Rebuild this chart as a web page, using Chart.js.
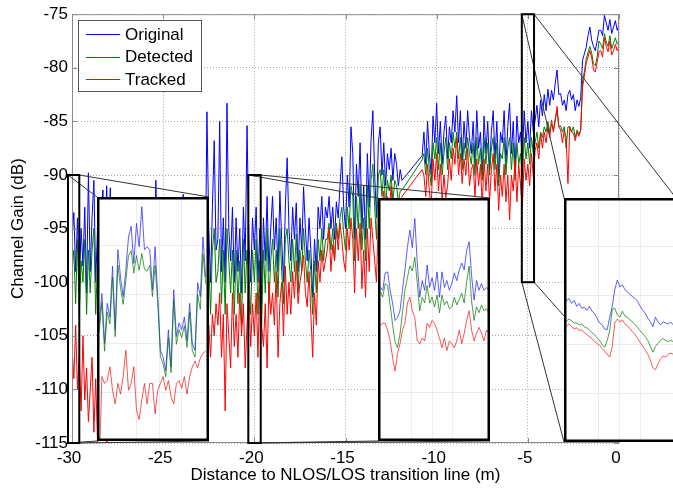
<!DOCTYPE html>
<html>
<head>
<meta charset="utf-8">
<script src="https://cdn.jsdelivr.net/npm/chart.js@4.4.0/dist/chart.umd.min.js"></script>
<style>
  body { margin: 0; background: #fff; overflow: hidden; width: 673px; height: 490px; position: relative; }
  canvas { position: absolute; }
</style>
</head>
<body>
<canvas id="main" width="673" height="490" style="left:0;top:0"></canvas>
<canvas id="inset1" width="112" height="244" style="left:97px;top:197px"></canvas>
<canvas id="inset2" width="112" height="243" style="left:378px;top:198px"></canvas>
<canvas id="inset3" width="112" height="244" style="left:564px;top:198px"></canvas>
<script>
// samples every 0.1 m from -30 to 0 (dB)
const xStart = -30, xStep = 0.1;

const original = [
  -96,-93.5,-99,-94,-100,-95,-98.5,-93,-101,-89.8,
  -99,-94,-90.5,-100,-95,-102,-93,-91.4,-98,-91,
  -97,-91.2,-99,-96,-101,-95,-98,-100,-94,-99,
  -96,-100,-94,-98,-102,-95,-97,-93,-99,-96,
  -100,-95,-98,-93,-97,-101,-90.5,-99,-96,-94,
  -98,-95,-101,-93,-99,-96,-100,-94,-97,-99,
  -95,-91.8,-98,-100,-96,-94,-99,-97,-102,-95,
  -99,-96,-94,-101,-84.1,-95,-100,-93,-86.8,-97,
  -96,-85,-99,-94,-100,-83.3,-95,-98,-93,-100,
  -94,-99,-95,-101,-93,-98,-85.4,-96,-100,-94,
  -97,-93,-100,-95,-102,-94,-98,-92,-99,-95,
  -92,-97,-94,-99,-91.5,-96,-100,-93,-88.4,-95,
  -98,-93,-96,-92.6,-99,-94,-97,-91.1,-95,-98,
  -94,-97,-101.4,-96,-99,-93,-95,-92,-96,-93,
  -94,-92,-95,-93,-96,-92.5,-94,-91,-88.3,-93,
  -95,-90,-93,-85.5,-88,-96,-89,-92,-87,-95,
  -91,-96,-88,-93,-86.8,-84,-90,-94,-87,-85.5,
  -90,-87,-91,-88,-89.5,-87.5,-90.5,-88,-89,-91,
  -89.5,-90.5,null,null,null,null,null,null,null,null,
  null,null,-88.2,-86,-89,-85,-88,-90,-84.5,-87,
  -83.3,-88,-85,-89,-86,-84.5,-88.5,-85.5,-87,-84,
  -86,-82.6,-87,-84,-88.6,-85,-87.5,-84,-86.5,-88,
  -85,-89,-84,-87.5,-86,-90,-84.5,-88,-85,-89.5,
  -86,-84,-88.5,-85,-90.2,-86,-87,-84,-89,-85.5,
  -83.3,-88,-85,-89.5,-84.5,-87,-86,-88.5,-84,-87,
  -85,-87.5,-84,-86,-84.9,-83.5,-85.5,-83,-84.5,-82.5,
  -84,-82,-83.5,-82.1,-83,-81.5,-80.2,-82.5,-82.4,-83.5,
  -83,-84,-82.5,-82.1,-83,-82.5,-84,-83,-83.6,-82.8,
  -79.3,-78.7,-78.1,-77,-76.2,-77.4,-78,-78.4,-77.5,-76.5,
  -76.5,-77,-75.1,-75.8,-76.5,-75.5,-76.8,-76.2,-75.6,-76.5,
  -76
];

const detected = [
  -99,-97,-102,-96,-103,-98,-100,-96,-103,-97,
  -101,-97,-95,-103,-98,-104,-96,-97,-101,-96,
  -100,-97,-102,-99,-104,-98,-101,-103,-97,-102,
  -99,-103,-97,-101,-105,-98,-100,-96,-102,-99,
  -103,-98,-101,-96,-100,-104,-97,-102,-99,-97,
  -101,-98,-104,-96,-102,-99,-103,-97,-100,-102,
  -98,-96,-101,-103,-99,-97,-102,-100,-105,-98,
  -102,-99,-97,-104,-96,-98,-103,-97,-95,-100,
  -99,-96,-102,-97,-103,-95,-98,-101,-97,-103,
  -97,-102,-98,-104,-96,-101,-97,-99,-103,-97,
  -100,-96,-103,-98,-104,-97,-101,-95,-102,-98,
  -96,-100,-97,-101.4,-95,-99,-102,-96,-95,-98,
  -100,-96,-99,-95.5,-101,-97,-99,-95,-98,-100,
  -97,-99,-103,-98,-101,-96,-98,-95,-98,-96,
  -96,-94.5,-97,-95,-98,-94.5,-96,-94,-93,-95.5,
  -97,-93,-95,-91,-92,-98,-92,-95,-91,-97,
  -94,-98,-91,-95,-90.5,-89,-93,-96,-90,-89.5,
  -92,-89.5,-93,-90.5,-91.5,-90,-92.5,-90.5,-91,-92.5,
  -91.5,-91.4,null,null,null,null,null,null,null,null,
  null,null,-88.6,-88,-90,-87.5,-89.5,-91,-87,-88.5,
  -86.5,-89.5,-87,-90,-88,-86.5,-89.5,-87,-88.5,-86,
  -87.5,-86,-88.5,-86.5,-89.5,-87,-88.6,-86.5,-88,-89,
  -87,-90,-86.5,-89,-87.5,-90.5,-86.5,-89,-87,-90,
  -87.5,-86.5,-89.5,-87,-91,-88,-88.5,-86.5,-90,-87.5,
  -86.5,-89.5,-87,-90.5,-87,-89,-88,-90,-86.5,-88.5,
  -87,-89,-86.5,-88,-87,-86,-87.5,-86,-86.5,-85.5,
  -86,-85,-86,-85.2,-85.8,-84.8,-84,-85.5,-85.4,-86,
  -85.5,-87.5,-85.5,-85.5,-86,-85.5,-86.5,-85.8,-86.2,-85.8,
  -81.2,-80.4,-79.2,-78.6,-78,-78.6,-79.6,-79.8,-79,-77.5,
  -77.8,-78.2,-76.8,-77.6,-78,-77,-78.2,-77.7,-77.2,-77.8,
  -77.5
];

const tracked = [
  -106,-109,-104,-110,-107,-112,-105,-111,-108,-113,
  -110,-107,-114,-109,-115,-111,-108,-113,-110,-116,
  -111,-108,-113,-110,-109,-112,-108,-111,-113,-109,
  -110,-112,-108,-111,-109,-113,-110,-108,-112,-110,
  -109,-111,-108,-112,-110,-109,-113,-110,-108,-111,
  -112,-109,-111,-108,-110,-112,-109,-111,-110,-108,
  -110,-108,-111,-109,-112,-110,-108,-111,-109,-107,
  -109,-107,-110,-106,-108,-104,-107,-103,-105,-102,
  -104,-101,-107,-103,-112,-102,-105,-108,-101,-106,
  -103,-107,-101,-105,-102,-108,-104,-100.5,-106,-102,
  -105,-101,-107,-99.5,-104,-106,-102,-108,-100,-103,
  -101,-104,-99,-107,-102,-100,-105,-98.5,-103,-100,
  -103,-99,-101.5,-98,-102,-100,-99,-97.5,-101,-102.3,
  -99,-103,-107,-101,-104,-98,-100,-97,-99,-98,
  -97,-95,-99,-96.5,-98,-95,-97,-94.5,-96,-98,
  -99,-95,-97,-94,-96,-101,-95,-98,-94.5,-100.6,
  -97,-101.4,-95,-99,-94,-96,-98,-100,-94,-95,
  -93,-91.5,-94.5,-92,-93.5,-91,-94,-92.5,-93,-94.5,
  -93,-92,null,null,null,null,null,null,null,null,
  null,null,-89.5,-90,-92,-89,-91.5,-93,-88.5,-90.5,
  -88,-91.5,-89,-92.5,-90,-92.1,-91,-88.5,-90.5,-87.5,
  -89,-86.5,-90,-88,-90.8,-88.5,-90,-87.5,-91,-89.5,
  -89,-92,-88.5,-91,-89,-93,-88.5,-91.5,-89,-92.5,
  -89.5,-88,-91.5,-89,-93.3,-90,-92,-89,-92.5,-90,
  -94.2,-90,-91.5,-88.5,-92.5,-89,-91,-93,-88.5,-90.5,
  -89,-91,-88,-90.2,-87.7,-87,-88.5,-86.1,-87.5,-86,
  -87,-85.5,-86.5,-84.9,-86,-85,-83.6,-85.5,-85.8,-87,
  -85.8,-86.5,-90.8,-85.5,-86,-86.1,-86.8,-86,-86.4,-85.8,
  -81.8,-80.8,-79.6,-79,-78.4,-79,-80.2,-80.4,-79.5,-78.5,
  -78.4,-79,-77.2,-78,-78.5,-77.5,-78.8,-78.4,-77.8,-78.4,
  -78
];

const xTicks = [-30, -25, -20, -15, -10, -5, 0];
const yTicks = [-75, -80, -85, -90, -95, -100, -105, -110, -115];
const seriesNames = ['Original', 'Detected', 'Tracked'];
const seriesColors = ['#0000ff', '#008000', '#ff0000'];
const insetColors = ['rgba(40,40,255,0.75)', 'rgba(0,120,0,0.7)', 'rgba(240,0,0,0.65)'];

// zoom windows: [x from, x to, y low, y high]
const zoomWindows = [
  [-30.22, -29.6, -115, -90],
  [-20.33, -19.65, -115, -90],
  [-5.33, -4.66, -100, -75]
];
// part of each zoom window covered by the readings
const insetSpan = [[0.02, 0.97], [0.02, 0.99], [0.0, 0.975]];

const inset1Original = [-102.9,-99.9,-105.0,-100.9,-102.3,-97.1,-103.6,-95.4,-98.2,-100.2,-97.5,-94.1,-93.0,-96.8,-92.7,-95.1,-91.0,-95.4,-95.1,-95.4,-99.5,-95.1,-100.2,-105.7,-106.4,-107.8,-103.6,-107.4,-99.5,-104.3,-102.9,-103.6,-102.3,-104.7,-100.9,-105.0,-105.7,-98.8,-100.2,-94.1,-98.2];
const inset1Detected = [-103.8,-100.8,-105.8,-101.8,-103.0,-98.2,-104.3,-97.0,-99.3,-101.0,-98.6,-96.0,-95.5,-97.8,-96.0,-97.5,-95.8,-97.4,-97.6,-97.0,-100.2,-97.0,-100.8,-106.3,-107.1,-108.4,-104.4,-108.0,-100.6,-105.1,-103.6,-104.4,-103.2,-105.4,-101.8,-105.8,-106.4,-100.0,-101.5,-95.8,-98.9];
const inset1Tracked = [-118,-108.4,-109.1,-108.8,-107.4,-109.8,-111.2,-109.1,-110.2,-108.4,-105.7,-109.8,-109.1,-107.4,-111.8,-112.8,-110.8,-109.1,-111.2,-109.1,-109.1,-112.2,-109.8,-109.1,-108.4,-109.8,-108.8,-110.5,-111.2,-109.1,-108.8,-109.6,-108.4,-110.2,-108.4,-107.4,-106.8,-107.5,-106.5,-106.0,-105.8];

const inset2Original = [-99.2,-99.5,-97.7,-97.6,-99.5,-100.8,-102.6,-102.3,-101.6,-99.5,-97.4,-95.1,-93.3,-95.1,-92.1,-96.7,-100.2,-98.5,-99.5,-96.9,-99.2,-98.2,-99.5,-97.6,-100.2,-97.6,-99.2,-98.5,-99.5,-98.8,-97.7,-98.5,-97.4,-96.7,-97.4,-95.4,-94.5,-98.0,-100.5,-98.5,-99.5,-98.8,-99.5,-99.2,-99.5];
const inset2Detected = [-99.6,-100.2,-98.8,-99.0,-101.0,-103.0,-104.8,-105.4,-104.0,-101.8,-99.5,-98.2,-97.0,-97.5,-96.1,-98.8,-101.6,-100.2,-100.8,-99.0,-100.8,-100.2,-101.2,-100.0,-101.8,-100.0,-101.0,-100.6,-101.4,-101.2,-100.2,-101.0,-100.4,-99.8,-100.8,-98.6,-97.0,-100.6,-102.6,-101.2,-101.8,-101.0,-101.6,-101.4,-101.8];
const inset2Tracked = [-103.1,-102.9,-102.9,-103.6,-104.7,-106.4,-107.8,-106.0,-105.0,-103.6,-102.9,-100.8,-100.2,-101.6,-102.3,-104.7,-105.0,-104.4,-104.7,-102.9,-103.3,-102.6,-102.9,-103.6,-104.4,-105.4,-104.4,-105.7,-104.7,-105.0,-105.4,-104.7,-103.6,-105.0,-103.9,-102.6,-101.6,-103.6,-104.7,-103.9,-103.3,-103.9,-104.7,-103.6,-103.9];

const inset3Original = [-86.1,-85.5,-85.3,-85.8,-85.5,-86.1,-85.8,-86.3,-86.2,-86.5,-86.1,-86.6,-86.8,-87.3,-87.8,-88.0,-88.4,-88.5,-87.2,-86.1,-84.4,-83.4,-84.1,-83.9,-84.4,-84.6,-84.9,-85.1,-85.3,-85.6,-86.1,-86.5,-86.8,-87.3,-87.7,-88.2,-87.2,-87.7,-88.0,-87.7,-87.8,-87.9,-87.7,-88.0];
const inset3Detected = [-87.9,-87.6,-87.4,-87.6,-87.8,-87.8,-88.0,-87.9,-88.2,-88.3,-88.5,-88.8,-89.0,-89.3,-89.6,-90.0,-90.3,-89.6,-88.6,-86.4,-86.3,-87.0,-87.2,-86.6,-87.1,-87.2,-87.5,-87.7,-88.0,-88.3,-88.6,-88.9,-89.2,-89.6,-90.2,-90.8,-90.2,-89.9,-89.6,-89.4,-89.6,-89.7,-89.6,-89.7];
const inset3Tracked = [-88.4,-88.1,-87.9,-88.2,-88.4,-88.3,-88.6,-88.5,-88.8,-89.0,-89.2,-89.4,-89.7,-89.9,-90.1,-90.4,-90.7,-91.0,-91.3,-90.2,-87.8,-87.4,-87.7,-87.5,-87.9,-88.1,-88.4,-88.7,-89.0,-89.4,-89.8,-90.2,-90.6,-91.0,-91.6,-92.4,-92.6,-92.0,-91.5,-91.2,-91.3,-91.0,-90.9,-91.0];

const insetData = [
  [inset1Original, inset1Detected, inset1Tracked],
  [inset2Original, inset2Detected, inset2Tracked],
  [inset3Original, inset3Detected, inset3Tracked]
];

Chart.defaults.font.family = '"Liberation Sans", Arial, Helvetica, sans-serif';
Chart.defaults.font.size = 17;
Chart.defaults.color = '#000';

function toPoints(values) {
  return values.map((v, i) => ({ x: +(xStart + i * xStep).toFixed(1), y: v }));
}

// box, inward ticks, zoom rectangles, connectors and legend
const framePlugin = {
  id: 'frame',
  afterDatasetsDraw(chart) {
    const { ctx, chartArea: a, scales: { x, y } } = chart;
    ctx.save();
    ctx.strokeStyle = '#8a8a8a';
    ctx.lineWidth = 1;
    ctx.strokeRect(a.left + 0.5, a.top + 0.5, a.width - 1, a.height - 1);
    ctx.beginPath();
    x.ticks.forEach(t => {
      const px = Math.round(x.getPixelForValue(t.value)) + 0.5;
      ctx.moveTo(px, a.top); ctx.lineTo(px, a.top + 5);
      ctx.moveTo(px, a.bottom); ctx.lineTo(px, a.bottom - 5);
    });
    y.ticks.forEach(t => {
      const py = Math.round(y.getPixelForValue(t.value)) + 0.5;
      ctx.moveTo(a.left, py); ctx.lineTo(a.left + 5, py);
      ctx.moveTo(a.right, py); ctx.lineTo(a.right - 5, py);
    });
    ctx.stroke();

    zoomWindows.forEach((z, i) => {
      const el = document.getElementById('inset' + (i + 1));
      const L = x.getPixelForValue(z[0]), R = x.getPixelForValue(z[1]);
      const T = y.getPixelForValue(z[3]), B = y.getPixelForValue(z[2]);
      const bl = el.offsetLeft, bt = el.offsetTop, br = bl + el.width, bb = bt + el.height;
      ctx.strokeStyle = '#333';
      ctx.lineWidth = 1;
      ctx.beginPath();
      ctx.moveTo(L, T); ctx.lineTo(bl, bt);
      ctx.moveTo(R, T); ctx.lineTo(br, bt);
      ctx.moveTo(L, B); ctx.lineTo(bl, bb);
      ctx.moveTo(R, B); ctx.lineTo(br, bb);
      ctx.stroke();
      ctx.strokeStyle = '#000';
      ctx.lineWidth = 2;
      ctx.strokeRect(L, T, R - L, B - T);
    });

    // legend
    ctx.fillStyle = '#fff';
    ctx.fillRect(78, 20, 123, 71);
    ctx.strokeStyle = '#555';
    ctx.lineWidth = 1;
    ctx.strokeRect(78.5, 20.5, 123, 71);
    ctx.font = '17px "Liberation Sans", Arial, sans-serif';
    ctx.textBaseline = 'middle';
    seriesNames.forEach((name, i) => {
      const ly = 34 + i * 22.5;
      ctx.strokeStyle = seriesColors[i];
      ctx.beginPath();
      ctx.moveTo(86, Math.round(ly) + 0.5); ctx.lineTo(120, Math.round(ly) + 0.5);
      ctx.stroke();
      ctx.fillStyle = '#000';
      ctx.fillText(name, 125, ly + 1);
    });
    ctx.restore();
  }
};

new Chart(document.getElementById('main'), {
  type: 'line',
  data: {
    datasets: [original, detected, tracked].map((vals, i) => ({
      label: seriesNames[i],
      data: toPoints(vals),
      borderColor: seriesColors[i],
      borderWidth: 1,
      pointRadius: 0,
      spanGaps: true,
      order: 3 - i
    }))
  },
  options: {
    responsive: false,
    animation: false,
    events: [],
    layout: { padding: { top: 14, right: 54, left: 0, bottom: 0 } },
    plugins: { legend: { display: false }, tooltip: { enabled: false } },
    scales: {
      x: {
        type: 'linear', min: -30, max: 0,
        afterBuildTicks: s => { s.ticks = xTicks.map(v => ({ value: v })); },
        ticks: { padding: 5, labelOffset: -3, maxRotation: 0 },
        grid: { color: '#a8a8a8', drawTicks: false },
        border: { display: false, dash: [1, 2] },
        title: { display: true, text: 'Distance to NLOS/LOS transition line (m)', padding: { top: 4, bottom: 4 } },
        afterFit: s => { s.height = 47; }
      },
      y: {
        min: -115, max: -75,
        afterBuildTicks: s => { s.ticks = yTicks.map(v => ({ value: v })); },
        ticks: { padding: 4 },
        grid: { color: '#a8a8a8', drawTicks: false },
        border: { display: false, dash: [1, 2] },
        title: { display: true, text: 'Channel Gain (dB)', padding: { top: 8, bottom: 0 } },
        afterFit: s => { s.width = 72; }
      }
    }
  },
  plugins: [framePlugin]
});

const insetFrame = {
  id: 'insetFrame',
  beforeDraw(chart) {
    const { ctx, width, height } = chart;
    ctx.save();
    ctx.fillStyle = '#fff';
    ctx.fillRect(0, 0, width, height);
    ctx.restore();
  },
  afterDraw(chart) {
    const { ctx, width, height } = chart;
    ctx.save();
    ctx.strokeStyle = '#000';
    ctx.lineWidth = 2.5;
    ctx.strokeRect(1.25, 1.25, width - 2.5, height - 2.5);
    ctx.restore();
  }
};

insetData.forEach((group, k) => {
  const z = zoomWindows[k], span = insetSpan[k];
  new Chart(document.getElementById('inset' + (k + 1)), {
    type: 'line',
    data: {
      datasets: group.map((vals, i) => ({
        data: vals.map((v, j) => ({
          x: z[0] + (z[1] - z[0]) * (span[0] + (span[1] - span[0]) * j / (vals.length - 1)),
          y: v
        })),
        borderColor: insetColors[i],
        borderWidth: 1,
        pointRadius: 0,
        order: 3 - i
      }))
    },
    options: {
      responsive: false,
      animation: false,
      events: [],
      layout: { padding: 0 },
      plugins: { legend: { display: false }, tooltip: { enabled: false } },
      scales: {
        x: {
          type: 'linear', min: z[0], max: z[1],
          ticks: { display: false, stepSize: 0.125 },
          grid: { color: '#ececec', drawTicks: false },
          border: { display: false },
          afterFit: s => { s.height = 0; }
        },
        y: {
          min: z[2], max: z[3],
          ticks: { display: false, stepSize: 5 },
          grid: { color: '#ececec', drawTicks: false },
          border: { display: false },
          afterFit: s => { s.width = 0; }
        }
      }
    },
    plugins: [insetFrame]
  });
});
</script>
</body>
</html>
